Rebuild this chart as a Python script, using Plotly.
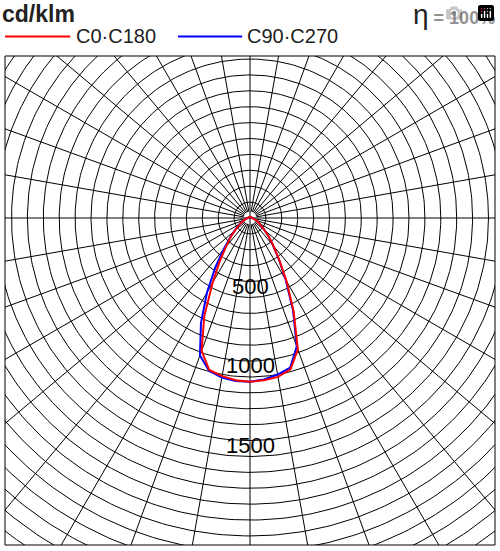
import numpy as np
import plotly.graph_objects as go

# gamma angles (deg from nadir) and intensities cd/klm
gamma = [0, 5, 10, 15, 20, 25, 30, 35, 40, 45, 50, 60, 70, 80, 90, 120, 150, 180]
c0_right   = [1030, 1025, 1015, 985, 880, 650, 460, 320, 230, 170, 120, 70, 40, 25, 15, 10, 8, 8]
c180_left  = [1030, 1025, 1010, 990, 890, 680, 470, 330, 235, 175, 125, 72, 42, 26, 15, 10, 8, 8]
c90_right  = [1030, 1020, 1000, 975, 860, 640, 450, 315, 225, 165, 118, 68, 40, 25, 15, 10, 8, 8]
c270_left  = [1030, 1030, 1020, 995, 920, 730, 540, 380, 260, 180, 130, 75, 44, 27, 15, 10, 8, 8]
ring_labels = [500, 1000, 1500]

def curve(left, right):
    g = np.array(gamma, float)
    ang = np.concatenate([-g[::-1], g[1:]])
    r = np.concatenate([np.array(left)[::-1], np.array(right)[1:]])
    t = np.radians(ang)
    return r*np.sin(t), -r*np.cos(t)

fig = go.Figure()
th = np.linspace(0, 2*np.pi, 361)
gx, gy = [], []
for R in range(100, 2700, 100):
    gx += list(R*np.cos(th)) + [None]
    gy += list(R*np.sin(th)) + [None]
for a in range(0, 360, 10):
    t = np.radians(a)
    r0 = 40 if a % 90 else 0
    gx += [r0*np.cos(t), 3000*np.cos(t), None]
    gy += [r0*np.sin(t), 3000*np.sin(t), None]
fig.add_trace(go.Scatter(x=gx, y=gy, mode="lines", line=dict(color="black", width=1),
                         hoverinfo="skip", showlegend=False))
bx, by = curve(c270_left, c90_right)
fig.add_trace(go.Scatter(x=bx, y=by, mode="lines", line=dict(color="#0000ff", width=2), showlegend=False))
rx, ry = curve(c180_left, c0_right)
fig.add_trace(go.Scatter(x=rx, y=ry, mode="lines", line=dict(color="#ff0000", width=2), showlegend=False))
for v in ring_labels:
    fig.add_annotation(x=0, y=-v+70, text=str(v), showarrow=False,
                       font=dict(size=22, color="black", family="Liberation Sans"))

fig.update_xaxes(range=[-1541, 1541], visible=False, fixedrange=True)
fig.update_yaxes(range=[-2057, 1019], visible=False, fixedrange=True)
fig.add_shape(type="rect", xref="paper", yref="paper", x0=0, x1=1, y0=0, y1=1,
              line=dict(color="black", width=1))
F = "Liberation Sans"
fig.add_annotation(xref="paper", yref="paper", x=-0.01, y=1.085, xanchor="left", yanchor="middle",
                   text="<b>cd/klm</b>", showarrow=False, font=dict(size=23, color="#222", family=F))
fig.add_annotation(xref="paper", yref="paper", x=1.005, y=1.085, xanchor="right", yanchor="middle",
                   text="<span style='font-size:28px'>η</span> <b>= 100%</b>", showarrow=False,
                   font=dict(size=18, color="#222", family=F))
fig.add_shape(type="line", xref="paper", yref="paper", x0=0.0, x1=0.133, y0=1.04, y1=1.04,
              line=dict(color="#ff0000", width=2))
fig.add_annotation(xref="paper", yref="paper", x=0.14, y=1.04, xanchor="left", yanchor="middle",
                   text="C0·C180", showarrow=False, font=dict(size=20, color="#222", family=F))
fig.add_shape(type="line", xref="paper", yref="paper", x0=0.353, x1=0.484, y0=1.04, y1=1.04,
              line=dict(color="#0000ff", width=2))
fig.add_annotation(xref="paper", yref="paper", x=0.49, y=1.04, xanchor="left", yanchor="middle",
                   text="C90·C270", showarrow=False, font=dict(size=20, color="#222", family=F))
fig.update_layout(width=500, height=551, margin=dict(l=5, r=5, t=56, b=6),
                  plot_bgcolor="white", paper_bgcolor="white")
fig.write_html("out.html", post_script="document.body.style.margin='0';")
